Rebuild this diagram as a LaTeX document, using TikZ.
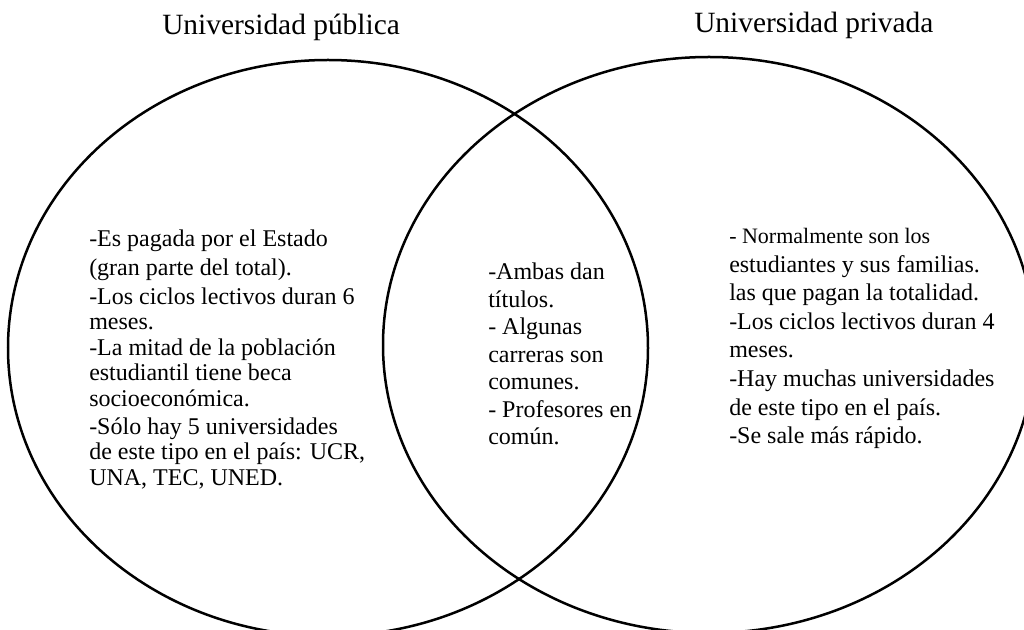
\documentclass[tikz,border=0pt]{standalone}
\usepackage{fontspec}
\setmainfont{Liberation Serif}

\begin{document}
\begin{tikzpicture}
      [x = .5pt, y = -.5pt, line width = 1.25pt,
       heading/.style = {anchor = base west, inner sep = 0pt,
         font = \fontsize{14.7}{17}\selectfont},
       notes/.style = {anchor = north west, inner sep = 0pt, align = left}]
      \useasboundingbox (0,0) rectangle (1024,630);
      \draw (328,348) ellipse [x radius = 160pt, y radius = 144pt];
      \draw (709,345) ellipse [x radius = 163pt, y radius = 144pt];
      \node[heading] (publica) at (161,35) {Universidad pública};
      \node[heading] (privada) at (693,33) {Universidad privada};
      \node[notes, font = \fontsize{12}{12.8}\selectfont] (izq) at (88,229)
        {-Es pagada por el Estado\\[1.5pt]
         (gran parte del total).\\[1.5pt]
         -Los ciclos lectivos duran 6\\
         meses.\\
         -La mitad de la población\\
         estudiantil tiene beca\\
         socioeconómica.\\[1pt]
         -Sólo hay 5 universidades\\
         de este tipo en el país: UCR,\\
         UNA, TEC, UNED.};
      \node[notes, font = \fontsize{12}{13.75}\selectfont] (medio) at (487,262)
        {-Ambas dan\\
         títulos.\\
         - Algunas\\
         carreras son\\
         comunes.\\
         - Profesores en\\
         común.};
      \node[notes, font = \fontsize{12}{14.3}\selectfont] (der) at (728,227)
        {{\fontsize{11}{14.3}\selectfont - Normalmente son los}\\
         estudiantes y sus familias.\\
         las que pagan la totalidad.\\
         -Los ciclos lectivos duran 4\\
         meses.\\
         -Hay muchas universidades\\
         de este tipo en el país.\\
         -Se sale más rápido.};
\end{tikzpicture}
\end{document}
